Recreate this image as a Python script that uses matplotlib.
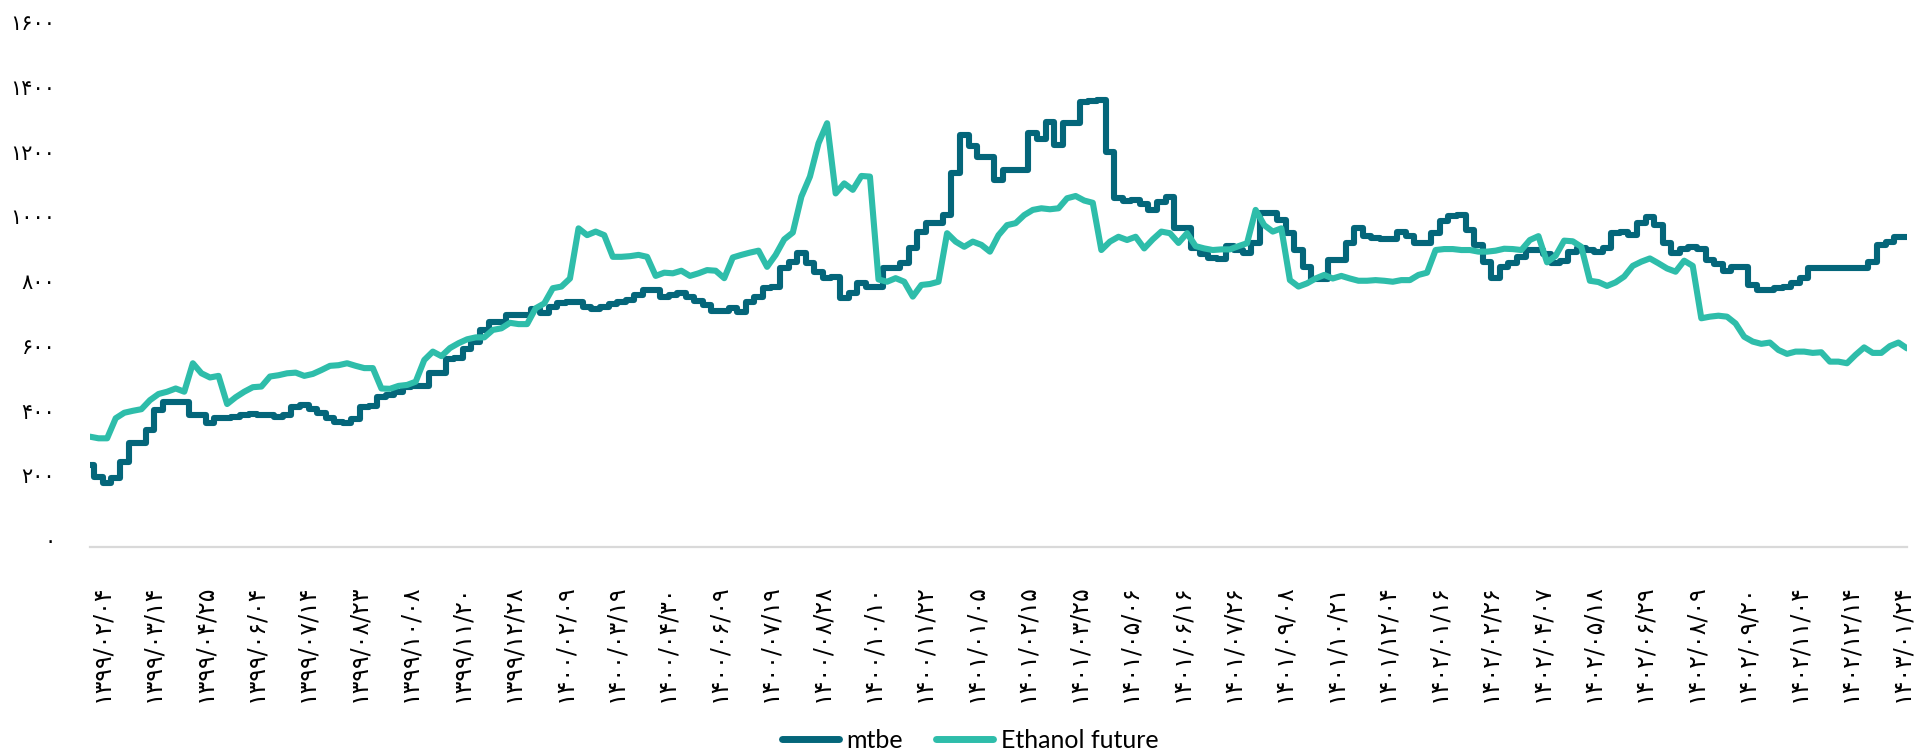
import matplotlib
matplotlib.use("Agg")
import matplotlib.pyplot as plt
import matplotlib.transforms as mtransforms

# Tick dates (Solar Hijri), one every six trading samples
dates = [
    "1399/02/04", "1399/03/14", "1399/04/25", "1399/06/04", "1399/07/14", "1399/08/23",
    "1399/10/08", "1399/11/20", "1399/12/28", "1400/02/09", "1400/03/19", "1400/04/30",
    "1400/06/09", "1400/07/19", "1400/08/28", "1400/10/10", "1400/11/22", "1401/01/05",
    "1401/02/15", "1401/03/25", "1401/05/06", "1401/06/16", "1401/07/26", "1401/09/08",
    "1401/10/21", "1401/12/04", "1402/01/16", "1402/02/26", "1402/04/07", "1402/05/18",
    "1402/06/29", "1402/08/09", "1402/09/20", "1402/11/04", "1402/12/14", "1403/01/24",
]
label_step = 6

mtbe = [
    253, 217, 197, 212, 264, 320, 320, 362, 423, 449, 449, 449, 408, 408, 384, 400,
    400, 403, 408, 411, 409, 407, 403, 408, 434, 439, 426, 413, 400, 387, 382, 395,
    434, 436, 463, 470, 480, 496, 498, 498, 537, 539, 580, 583, 611, 635, 671, 697,
    697, 717, 717, 717, 735, 722, 743, 755, 758, 757, 743, 735, 743, 751, 757, 764,
    779, 794, 794, 774, 779, 784, 774, 761, 748, 731, 731, 738, 727, 758, 774, 800,
    805, 861, 882, 908, 877, 851, 830, 836, 769, 784, 815, 805, 805, 861, 861, 877,
    923, 975, 1001, 1001, 1026, 1155, 1274, 1240, 1207, 1207, 1134, 1165, 1165, 1165, 1279, 1260,
    1315, 1243, 1310, 1310, 1377, 1379, 1382, 1222, 1078, 1071, 1073, 1060, 1042, 1067, 1083, 985,
    985, 923, 906, 892, 891, 931, 918, 908, 939, 1031, 1031, 1011, 970, 918, 867, 828,
    828, 887, 887, 941, 985, 961, 954, 951, 951, 975, 961, 941, 941, 972, 1009, 1023,
    1025, 980, 934, 882, 830, 864, 877, 896, 918, 918, 905, 879, 884, 913, 923, 918,
    913, 925, 970, 975, 964, 1001, 1021, 995, 939, 908, 920, 928, 920, 887, 875, 854,
    867, 867, 810, 794, 793, 800, 805, 815, 830, 861, 861, 861, 861, 861, 861, 861,
    882, 934, 944, 957, 957,
]

ethanol_future = [
    341, 336, 336, 398, 415, 421, 426, 454, 473, 480, 490, 480, 568, 537, 524, 529,
    442, 463, 480, 494, 496, 527, 531, 537, 539, 529, 535, 547, 560, 562, 568, 560,
    553, 553, 490, 489, 498, 501, 511, 578, 604, 590, 615, 630, 642, 648, 648, 671,
    676, 693, 689, 689, 738, 753, 800, 805, 830, 985, 964, 975, 964, 897, 897, 899,
    903, 897, 838, 848, 846, 854, 838, 846, 856, 854, 831, 895, 903, 910, 916, 866,
    903, 951, 972, 1083, 1145, 1248, 1310, 1093, 1124, 1104, 1147, 1145, 827, 820, 831, 820,
    774, 810, 813, 820, 970, 944, 928, 944, 934, 913, 964, 995, 1001, 1026, 1042, 1047,
    1044, 1047, 1078, 1085, 1071, 1064, 918, 944, 959, 949, 959, 923, 951, 975, 970, 940,
    970, 930, 923, 918, 920, 920, 930, 939, 1042, 995, 975, 985, 825, 805, 815, 830,
    841, 830, 838, 830, 823, 823, 825, 823, 820, 825, 825, 841, 848, 918, 921, 921,
    918, 918, 913, 913, 916, 922, 921, 918, 949, 961, 880, 900, 947, 945, 928, 823,
    819, 807, 818, 836, 869, 882, 892, 877, 861, 851, 885, 869, 707, 712, 715, 712,
    691, 650, 635, 628, 632, 609, 597, 604, 604, 600, 602, 573, 573, 568, 594, 617,
    600, 600, 621, 632, 614,
]

y_ticks = [0, 200, 400, 600, 800, 1000, 1200, 1400, 1600]

MTBE_COLOR = "#04667a"
ETHANOL_COLOR = "#2ebdaa"

PERSIAN = str.maketrans("0123456789", "۰۱۲۳۴۵۶۷۸۹")


def fa(text):
    return str(text).translate(PERSIAN)


W, H, DPI = 1918, 755, 100
fig = plt.figure(figsize=(W / DPI, H / DPI), dpi=DPI)
left, right, bottom_px, top_px = 90, 1907, 547, 29.4
ax = fig.add_axes([left / W, 1 - bottom_px / H, (right - left) / W, (bottom_px - top_px) / H])

x = list(range(len(mtbe)))
ax.plot(x, mtbe, color=MTBE_COLOR, lw=4.4, drawstyle="steps-mid",
        solid_joinstyle="round", solid_capstyle="round", label="mtbe")
ax.plot(x, ethanol_future, color=ETHANOL_COLOR, lw=4.4,
        solid_joinstyle="round", solid_capstyle="round", label="Ethanol future")

ax.set_xlim(0, len(mtbe) - 1)
ax.set_ylim(0, 1600)

for side in ("top", "right", "left"):
    ax.spines[side].set_visible(False)
ax.spines["bottom"].set_color("#d9d9d9")
ax.spines["bottom"].set_linewidth(1.6)

ax.set_yticks(y_ticks)
ax.set_yticklabels([fa(v) for v in y_ticks], family=["DejaVu Sans"], fontsize=15)
ax.tick_params(axis="y", length=0, pad=25)
yshift = mtransforms.ScaledTranslation(0, 7 / DPI, fig.dpi_scale_trans)
for lab in ax.get_yticklabels():
    lab.set_transform(lab.get_transform() + yshift)

tick_pos = [i * label_step for i in range(len(dates))]
ax.set_xticks(tick_pos)
ax.set_xticklabels([fa(d) for d in dates], rotation=90, family=["DejaVu Sans"], fontsize=17)
ax.tick_params(axis="x", length=0, pad=27)
xshift = mtransforms.ScaledTranslation(11 / DPI, 0, fig.dpi_scale_trans)
for lab in ax.get_xticklabels():
    lab.set_transform(lab.get_transform() + xshift)

leg = fig.legend(loc="center", bbox_to_anchor=(970 / W, 1 - 740 / H), ncol=2,
                 frameon=False, prop={"family": "Lato", "size": 18},
                 handlelength=2.3, handletextpad=0.3, columnspacing=1.3)
for h in leg.legend_handles:
    h.set_linewidth(5)
    h.set_solid_capstyle("round")

fig.savefig("out.png", dpi=DPI, facecolor="white")
